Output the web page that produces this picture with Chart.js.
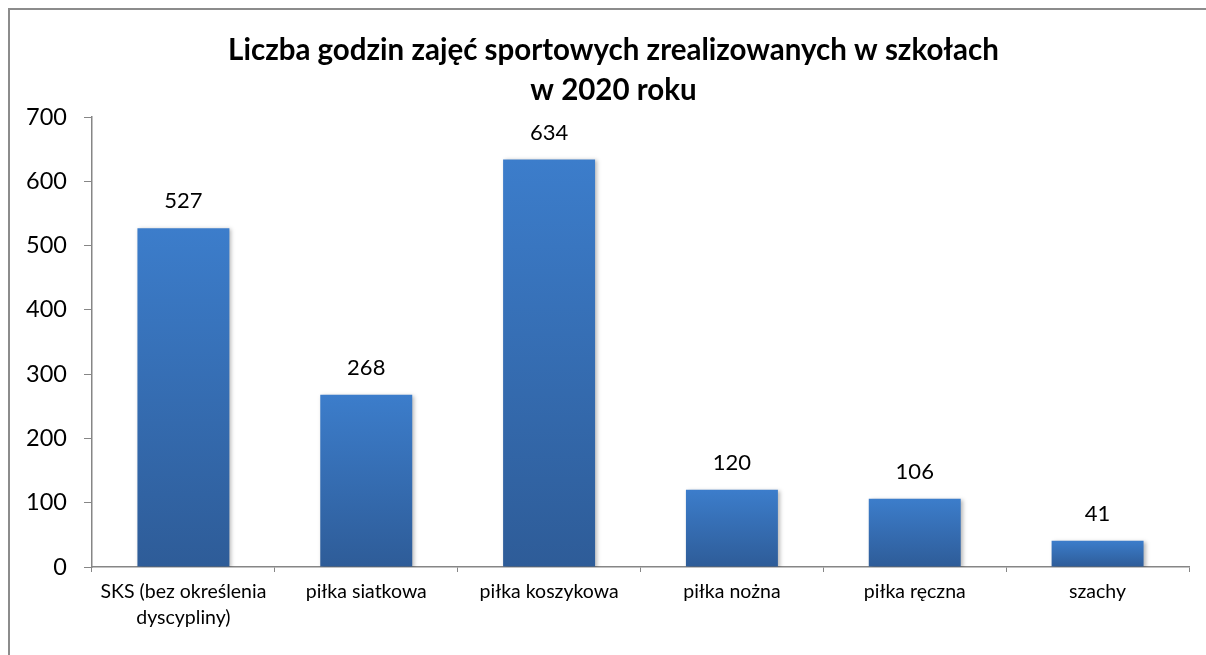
<!DOCTYPE html>
<html>
<head>
<meta charset="utf-8">
<script src="https://cdn.jsdelivr.net/npm/chart.js@4/dist/chart.umd.min.js"></script>
<style>
  html, body { margin: 0; padding: 0; background: #fff; overflow: hidden; }
  #frame { position: absolute; left: 8px; top: 8px; width: 1300px; height: 800px;
           border-left: 2px solid #8c8c8c; border-top: 2px solid #8c8c8c; }
  #chart { position: absolute; left: 0; top: 0; }
</style>
</head>
<body>
<div id="frame"></div>
<canvas id="chart" width="1206" height="655"></canvas>
<script>
const categories = [
  ['SKS (bez określenia', 'dyscypliny)'],
  'piłka siatkowa',
  'piłka koszykowa',
  'piłka nożna',
  'piłka ręczna',
  'szachy'
];
const hours = [527, 268, 634, 120, 106, 41];
const titleLines = ['Liczba godzin zajęć sportowych zrealizowanych w szkołach', 'w 2020 roku'];
const yTicks = [0, 100, 200, 300, 400, 500, 600, 700];

const FONT = 'Lato';
const AXIS = '#868686';

// gradient per bar: lighter on top, darker at the base
function barFill(context) {
  const chart = context.chart;
  const yScale = chart.scales.y;
  if (!yScale || !chart.chartArea) return '#3670b4';
  const v = context.raw;
  const top = yScale.getPixelForValue(v);
  const base = yScale.getPixelForValue(0);
  if (!isFinite(top) || !isFinite(base) || top === base) return '#3670b4';
  const g = chart.ctx.createLinearGradient(0, top, 0, base);
  g.addColorStop(0, '#3c7dcb');
  g.addColorStop(1, '#2e5c98');
  return g;
}

const barShadow = {
  id: 'barShadow',
  beforeDatasetDraw(chart) {
    const ctx = chart.ctx;
    ctx.save();
    ctx.shadowColor = 'rgba(0,0,0,0.28)';
    ctx.shadowBlur = 4;
    ctx.shadowOffsetX = 2;
    ctx.shadowOffsetY = 1;
  },
  afterDatasetDraw(chart) {
    chart.ctx.restore();
  }
};

const valueLabels = {
  id: 'valueLabels',
  afterDatasetsDraw(chart) {
    const ctx = chart.ctx;
    const meta = chart.getDatasetMeta(0);
    ctx.save();
    ctx.font = '22px ' + FONT;
    ctx.fillStyle = '#000';
    ctx.textAlign = 'center';
    ctx.textBaseline = 'middle';
    meta.data.forEach((bar, i) => {
      ctx.fillText(String(hours[i]), bar.x, bar.y - 27);
    });
    ctx.restore();
  }
};

// title in the original sits centred on the frame, a bit right of the canvas centre
const titleShift = {
  id: 'titleShift',
  afterLayout(chart) {
    if (chart.titleBlock) chart.titleBlock.left = 38;
  }
};

new Chart(document.getElementById('chart').getContext('2d'), {
  type: 'bar',
  data: {
    labels: categories,
    datasets: [{
      data: hours,
      backgroundColor: barFill,
      borderWidth: 0,
      barPercentage: 0.503,
      categoryPercentage: 1
    }]
  },
  options: {
    responsive: false,
    animation: false,
    layout: { padding: { left: 0, right: 17, top: 0, bottom: 0 } },
    plugins: {
      legend: { display: false },
      tooltip: { enabled: false },
      title: {
        display: true,
        text: titleLines,
        color: '#000',
        font: { family: FONT, size: 29.5, weight: 'bold', lineHeight: '40px' },
        padding: { top: 30, bottom: 7 }
      }
    },
    scales: {
      x: {
        offset: true,
        grid: { display: true, drawOnChartArea: false, offset: true, color: AXIS, tickLength: 5 },
        border: { display: true, color: AXIS, width: 1.5 },
        ticks: {
          color: '#000',
          padding: 7,
          maxRotation: 0,
          autoSkip: false,
          font: { family: FONT, size: 19.5, lineHeight: '26px' }
        },
        afterFit(scale) { scale.height = 88; }
      },
      y: {
        min: 0,
        max: 700,
        afterBuildTicks(scale) { scale.ticks = yTicks.map(v => ({ value: v })); },
        grid: { display: true, drawOnChartArea: false, color: AXIS, tickLength: 8 },
        border: { display: true, color: AXIS, width: 1.5 },
        ticks: {
          color: '#000',
          padding: 17,
          font: { family: FONT, size: 23.5 }
        },
        afterFit(scale) { scale.width = 92; }
      }
    }
  },
  plugins: [barShadow, valueLabels, titleShift]
});
</script>
</body>
</html>
